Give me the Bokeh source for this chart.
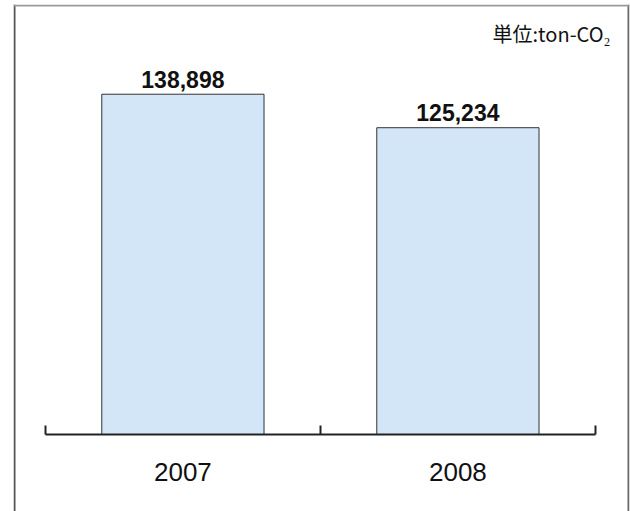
from bokeh.plotting import figure
from bokeh.models import Range1d, LinearAxis, FixedTicker, Label, ColumnDataSource, Span
from bokeh.core.properties import value
from bokeh.embed import file_html
from bokeh.resources import INLINE

years = ["2007", "2008"]
emissions = [138898, 125234]
labels = ["138,898", "125,234"]
unit_label = "単位:ton-CO₂"

xs = [i + 0.5 for i in range(len(years))]
bounds = [float(i) for i in range(len(years) + 1)]
src = ColumnDataSource(dict(x=xs, top=emissions, label=labels))

upp = 408.2  # data units per pixel
p = figure(width=630, height=511, output_backend="svg", toolbar_location=None,
           x_range=Range1d(-0.116, 2.124),
           y_range=Range1d(-77 * upp, 430 * upp),
           x_axis_location=None, y_axis_location=None,
           min_border_left=13, min_border_right=1, min_border_top=4, min_border_bottom=0)
p.grid.visible = False
p.outline_line_color = None
p.background_fill_color = "white"

# chart border (left, right, top; bottom edge lies outside the picture)
for loc, dim, col in [(1, "height", "#555555"), (615, "height", "#6a6a6a"),
                      (506, "width", "#999999")]:
    p.add_layout(Span(location=loc, location_units="screen", dimension=dim,
                      line_color=col, line_width=2))

p.vbar(x="x", top="top", bottom=0, width=0.59, source=src,
       fill_color="#D3E6F8", line_color="#333333", line_width=1)

p.text(x="x", y="top", text="label", source=src, text_align="center",
       text_baseline="alphabetic", y_offset=-15,
       text_font=value("Liberation Sans"), text_font_size="23px",
       text_font_style="bold", text_color="#111111")

x_axis = LinearAxis(ticker=FixedTicker(ticks=xs, minor_ticks=bounds), fixed_location=0,
                    bounds=(bounds[0], bounds[-1]),
                    major_label_overrides={x: y for x, y in zip(xs, years)},
                    axis_line_width=2, axis_line_color="#222222",
                    major_tick_line_color=None,
                    minor_tick_in=9, minor_tick_out=0,
                    minor_tick_line_width=2, minor_tick_line_color="#222222",
                    major_label_standoff=22,
                    major_label_text_font="Liberation Sans",
                    major_label_text_font_size="26px",
                    major_label_text_color="#111111")
p.add_layout(x_axis, "below")

p.add_layout(Label(x=597, y=478, x_units="screen", y_units="screen", text=unit_label,
                   text_align="right", text_baseline="middle",
                   text_font="Noto Sans CJK JP", text_font_size="20px",
                   text_color="#111111"))

open("out.html", "w").write(file_html(p, INLINE))
